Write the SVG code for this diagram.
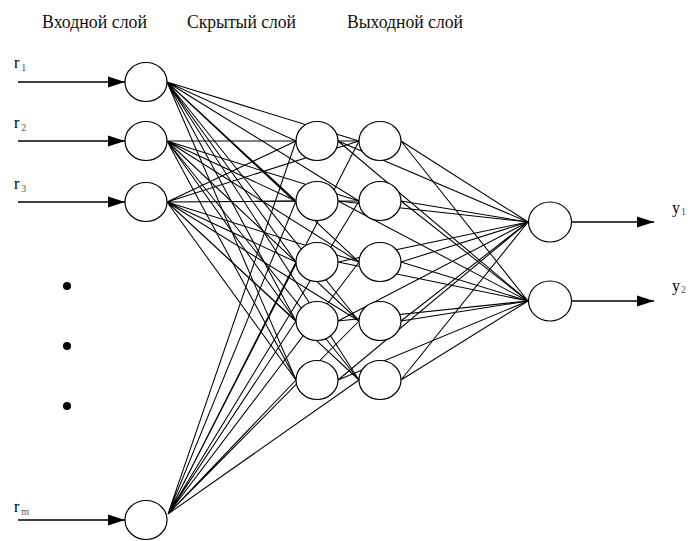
<svg xmlns="http://www.w3.org/2000/svg" width="693" height="541" viewBox="0 0 693 541">
  <style>
    .node { fill: #fff; stroke: #000; stroke-width: 1.2; }
    .wire { fill: none; stroke: #000; stroke-width: 1.05; }
    .io { fill: none; stroke: #000; stroke-width: 1.3; }
    .title { font-family: "Liberation Serif", "DejaVu Serif", serif; font-size: 19px; fill: #111; }
    .sym { font-family: "Liberation Serif", "DejaVu Serif", serif; font-size: 16px; fill: #000; }
    .sub { font-family: "Liberation Serif", "DejaVu Serif", serif; font-size: 10px; fill: #555; }
  </style>
  <defs>
    <marker id="head" markerUnits="userSpaceOnUse" markerWidth="17" markerHeight="12" refX="17" refY="6" orient="auto">
      <path d="M0,0.5 L17,6 L0,11.5 z" fill="#000"/>
    </marker>
  </defs>

  <rect width="693" height="541" fill="#fff"/>

  <!-- layer titles -->
  <text class="title" x="42" y="28" textLength="105" lengthAdjust="spacingAndGlyphs">Входной слой</text>
  <text class="title" x="187" y="28" textLength="109" lengthAdjust="spacingAndGlyphs">Скрытый слой</text>
  <text class="title" x="347" y="28" textLength="116" lengthAdjust="spacingAndGlyphs">Выходной слой</text>

  <!-- weighted connections -->
  <g id="connectors" class="wire">
    <!-- input 1 to hidden -->
    <path d="M167 82 L296 141 M167 82 L296 201 M167 82 L296 262 M167 82 L296 321 M167 82 L296 380 M167 82 L359 141 M167 82 L359 201 M167 82 L359 262 M167 82 L359 321 M167 82 L359 380"/>
    <!-- input 2 to hidden -->
    <path d="M167 141 L296 141 M167 141 L296 201 M167 141 L296 262 M167 141 L296 321 M167 141 L296 380 M167 141 L359 141 M167 141 L359 201 M167 141 L359 262 M167 141 L359 321 M167 141 L359 380"/>
    <!-- input 3 to hidden -->
    <path d="M167 202 L296 141 M167 202 L296 201 M167 202 L296 262 M167 202 L296 321 M167 202 L296 380 M167 202 L359 141 M167 202 L359 201 M167 202 L359 262 M167 202 L359 321 M167 202 L359 380"/>
    <!-- input m to hidden -->
    <path d="M168 514 L296 141 M168 514 L296 201 M168 514 L296 262 M168 514 L296 321 M168 514 L296 380 M168 514 L359 141 M168 514 L359 201 M168 514 L359 262 M168 514 L359 321 M168 514 L359 380"/>
    <!-- hidden column A to outputs -->
    <path d="M338 141 L528 222 M338 141 L528 301 M338 201 L528 222 M338 201 L528 301 M338 262 L528 222 M338 262 L528 301 M338 321 L528 222 M338 321 L528 301 M338 380 L528 222 M338 380 L528 301"/>
    <!-- hidden column B to outputs -->
    <path d="M401 141 L528 222 M401 141 L528 301 M401 201 L528 222 M401 201 L528 301 M401 262 L528 222 M401 262 L528 301 M401 321 L528 222 M401 321 L528 301 M401 380 L528 222 M401 380 L528 301"/>
    <!-- input signals -->
    <path class="io" d="M18 82 H125" marker-end="url(#head)"/>
    <path class="io" d="M18 141 H125" marker-end="url(#head)"/>
    <path class="io" d="M18 202 H125" marker-end="url(#head)"/>
    <path class="io" d="M18 520 H125" marker-end="url(#head)"/>
    <!-- output signals -->
    <path class="io" d="M572 222 H654" marker-end="url(#head)"/>
    <path class="io" d="M572 301 H654" marker-end="url(#head)"/>
  </g>

  <!-- input layer -->
  <g id="in1"><ellipse class="node" cx="146" cy="82" rx="21" ry="19.5"/></g>
  <g id="in2"><ellipse class="node" cx="146" cy="141" rx="21" ry="19.5"/></g>
  <g id="in3"><ellipse class="node" cx="146" cy="202" rx="21" ry="19.5"/></g>
  <g id="inm"><ellipse class="node" cx="146" cy="520" rx="21" ry="19.5"/></g>

  <!-- ellipsis between inputs -->
  <g id="ellipsis" fill="#000">
    <circle cx="67" cy="286" r="4"/>
    <circle cx="67" cy="346" r="4"/>
    <circle cx="67" cy="406" r="4"/>
  </g>

  <!-- hidden layer, column A -->
  <g id="ha1"><ellipse class="node" cx="317" cy="141" rx="21" ry="19.5"/></g>
  <g id="ha2"><ellipse class="node" cx="317" cy="201" rx="21" ry="19.5"/></g>
  <g id="ha3"><ellipse class="node" cx="317" cy="262" rx="21" ry="19.5"/></g>
  <g id="ha4"><ellipse class="node" cx="317" cy="321" rx="21" ry="19.5"/></g>
  <g id="ha5"><ellipse class="node" cx="317" cy="380" rx="21" ry="19.5"/></g>

  <!-- hidden layer, column B -->
  <g id="hb1"><ellipse class="node" cx="380" cy="141" rx="21" ry="19.5"/></g>
  <g id="hb2"><ellipse class="node" cx="380" cy="201" rx="21" ry="19.5"/></g>
  <g id="hb3"><ellipse class="node" cx="380" cy="262" rx="21" ry="19.5"/></g>
  <g id="hb4"><ellipse class="node" cx="380" cy="321" rx="21" ry="19.5"/></g>
  <g id="hb5"><ellipse class="node" cx="380" cy="380" rx="21" ry="19.5"/></g>

  <!-- output layer -->
  <g id="out1"><ellipse class="node" cx="550" cy="222" rx="21.5" ry="20"/></g>
  <g id="out2"><ellipse class="node" cx="550" cy="301" rx="21.5" ry="20"/></g>

  <!-- signal labels -->
  <g id="labels">
    <text class="sym" x="14" y="68">r<tspan class="sub" dx="2" dy="3">1</tspan></text>
    <text class="sym" x="14" y="128">r<tspan class="sub" dx="2" dy="3">2</tspan></text>
    <text class="sym" x="14" y="189">r<tspan class="sub" dx="2" dy="3">3</tspan></text>
    <text class="sym" x="14" y="512">r<tspan class="sub" dx="2" dy="3">m</tspan></text>
    <text class="sym" x="672" y="213">y<tspan class="sub" dx="1" dy="2">1</tspan></text>
    <text class="sym" x="672" y="291">y<tspan class="sub" dx="1" dy="2">2</tspan></text>
  </g>
</svg>
